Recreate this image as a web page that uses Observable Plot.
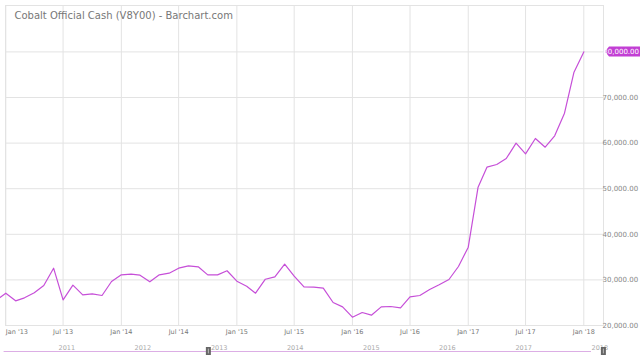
<!DOCTYPE html>
<html>
<head>
<meta charset="utf-8">
<script src="https://cdn.jsdelivr.net/npm/d3@7"></script>
<script src="https://cdn.jsdelivr.net/npm/@observablehq/plot@0.6"></script>
<style>
  html, body { margin: 0; padding: 0; background: #fff; }
  #wrap { position: relative; width: 640px; height: 360px; overflow: hidden; font-family: "DejaVu Sans", sans-serif; }
  #nav { position: absolute; left: 0; top: 335px; }
</style>
</head>
<body>
<div id="wrap"><div id="main"></div><div id="nav"></div></div>
<script>
// ---- data ----
const title = "Cobalt Official Cash (V8Y00) - Barchart.com";
const firstMonth = "2012-12-01";
const prices = [
  25500,
  27080, 25410, 26070, 27170, 28770, 32570, 25630, 28840, 26730, 26950, 26580, 29650,
  31110, 31250, 31030, 29580, 31110, 31470, 32570, 33090, 32870, 31110, 31110, 32000,
  29720, 28620, 27080, 30150, 30680, 33440, 30810, 28480, 28400, 28180, 25040, 24090,
  21820, 22850, 22260, 24090, 24170, 23880, 26290, 26580, 27890, 28920, 30090, 32940,
  37170, 50330, 54720, 55310, 56620, 59980, 57650, 61010, 59100, 61600, 66560, 75550,
  80000
];
const xTickStart = "2013-01-01";
const xTickLabels = ["Jan '13","Jul '13","Jan '14","Jul '14","Jan '15","Jul '15","Jan '16","Jul '16","Jan '17","Jul '17","Jan '18"];
const yTicks = [20000, 30000, 40000, 50000, 60000, 70000, 80000];
const navYears = [2011, 2012, 2013, 2014, 2015, 2016, 2017, 2018];
const navSpan = ["2010-04-15", "2018-01-01"];
const navHandles = ["2012-12-20", "2018-02-27"];

// ---- derived tables ----
const start = new Date(firstMonth + "T00:00:00Z");
const series = prices.map((v, i) => ({date: d3.utcMonth.offset(start, i), value: v}));
const t0 = new Date(xTickStart + "T00:00:00Z");
const xTicks = xTickLabels.map((label, i) => ({date: d3.utcMonth.offset(t0, 6 * i), label}));
const last = series[series.length - 1];
const fmt = d3.format(",.2f");

const lineColor = "#c64fd8";
const gridColor = "#e3e3e3";
const font = "DejaVu Sans";

const lastBox = (index, scales, values, dimensions) => {
  const y = scales.y(last.value);
  const x0 = dimensions.width - dimensions.marginRight + 2;
  const g = d3.create("svg:g");
  g.append("path")
    .attr("d", `M${x0},${y} L${x0 + 4},${y - 5} L${x0 + 35},${y - 5} L${x0 + 35},${y + 5} L${x0 + 4},${y + 5} Z`)
    .attr("fill", "#c23fd4");
  g.append("text")
    .attr("x", x0 + 34).attr("y", y).attr("dy", "0.35em")
    .attr("text-anchor", "end").attr("fill", "#fff")
    .attr("font-family", font).attr("font-size", 7)
    .text(fmt(last.value));
  return g.node();
};

const main = Plot.plot({
  width: 640,
  height: 360,
  marginLeft: 0,
  marginRight: 37,
  marginTop: 5,
  marginBottom: 35,
  style: {fontFamily: font, background: "#fff"},
  x: {type: "utc", domain: [t0, xTicks[xTicks.length - 1].date], range: [5.3, 583.3], axis: null},
  y: {domain: [20000, 80000], range: [325, 51.4], axis: null},
  marks: [
    Plot.ruleY(yTicks, {stroke: gridColor, strokeWidth: 1, insetLeft: 5}),
    Plot.ruleX(xTicks, {x: "date", stroke: gridColor, strokeWidth: 1}),
    Plot.frame({stroke: gridColor, insetLeft: 5}),
    Plot.line(series, {x: "date", y: "value", stroke: lineColor, strokeWidth: 1.2, clip: true}),
    Plot.text(xTicks.slice(0, 1), {x: "date", text: "label", frameAnchor: "bottom", dy: 8, textAnchor: "start", fill: "#777", fontSize: 6.5}),
    Plot.text(xTicks.slice(1), {x: "date", text: "label", frameAnchor: "bottom", dy: 8, fill: "#777", fontSize: 6.5}),
    Plot.text(yTicks.slice(0, -1), {y: d => d, text: d => fmt(d), frameAnchor: "right", dx: -1, textAnchor: "start", fill: "#888", fontSize: 7}),
    Plot.text([title], {frameAnchor: "top-left", dx: 14, dy: 10, fill: "#777", fontSize: 10, lineAnchor: "middle"}),
    lastBox
  ]
});
document.getElementById("main").appendChild(main);

const navYearRows = navYears.map(y => ({date: new Date(Date.UTC(y, 0, 1)), label: String(y)}));
const nav = Plot.plot({
  width: 640,
  height: 25,
  margin: 0,
  style: {fontFamily: font, background: "transparent"},
  x: {type: "utc", domain: [navYearRows[0].date, navYearRows[navYearRows.length - 1].date], range: [58, 591], axis: null},
  y: {domain: [0, 1], range: [20, 12], axis: null},
  marks: [
    Plot.ruleY([0.5], {x1: new Date(navSpan[0] + "T00:00:00Z"), x2: new Date(navSpan[1] + "T00:00:00Z"), stroke: "#dcaee5", strokeWidth: 1}),
    Plot.text(navYearRows, {x: "date", y: 1, text: "label", textAnchor: "start", lineAnchor: "middle", fill: "#aaa", fontSize: 6.5}),
    Plot.ruleX(navHandles.map(d => new Date(d + "T00:00:00Z")), {y1: 0, y2: 1, stroke: "#666", strokeWidth: 5}),
    Plot.ruleX(navHandles.map(d => new Date(d + "T00:00:00Z")), {y1: 0.2, y2: 0.8, stroke: "#bbb", strokeWidth: 1})
  ]
});
document.getElementById("nav").appendChild(nav);
</script>
</body>
</html>
